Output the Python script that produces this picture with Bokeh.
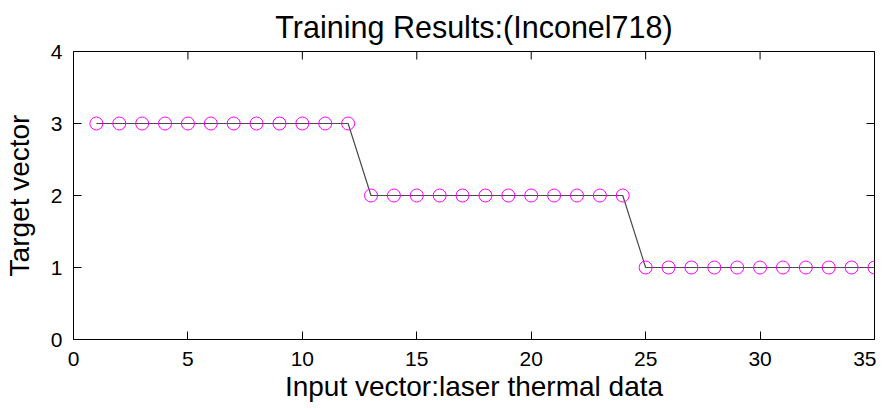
import math
from bokeh.plotting import figure
from bokeh.models import Range1d, LinearAxis, SingleIntervalTicker
from bokeh.embed import file_html
from bokeh.resources import INLINE

# Data
sample_index = list(range(1, 36))
target_values = [3] * 12 + [2] * 12 + [1] * 11

x_ticks = [0, 5, 10, 15, 20, 25, 30, 35]
y_ticks = [0, 1, 2, 3, 4]

title_text = "Training Results:(Inconel718)"
x_label = "Input vector:laser thermal data"
y_label = "Target vector"

FONT = "Liberation Sans"

p = figure(width=876, height=405, output_backend="svg", toolbar_location=None,
           x_range=Range1d(0, 35), y_range=Range1d(0, 4),
           min_border_left=66, min_border_right=2, min_border_top=51, min_border_bottom=66,
           x_axis_location=None, y_axis_location=None)

p.background_fill_color = "white"
p.border_fill_color = "white"
p.outline_line_color = "black"
p.outline_line_width = 1
p.xgrid.visible = False
p.ygrid.visible = False

p.title.text = title_text
p.title.text_font = FONT
p.title.text_font_size = "30.5px"
p.title.text_font_style = "normal"
p.title.align = "center"
p.title.text_color = "black"
p.title.standoff = 15


def style_axis(ax, interval):
    ax.ticker = SingleIntervalTicker(interval=interval)
    ax.minor_tick_line_color = None
    ax.major_tick_in = 8
    ax.major_tick_out = 0
    ax.major_tick_line_color = "black"
    ax.major_tick_line_width = 1
    ax.axis_line_color = None
    ax.major_label_text_font = FONT
    ax.major_label_text_font_size = "21px"
    ax.major_label_text_color = "black"
    ax.axis_label_text_font = FONT
    ax.axis_label_text_font_size = "28px"
    ax.axis_label_text_font_style = "normal"
    ax.axis_label_text_color = "black"


xb = LinearAxis(axis_label=x_label)
style_axis(xb, 5)
xb.major_label_standoff = 8
xb.axis_label_standoff = 2
p.add_layout(xb, "below")

yl = LinearAxis(axis_label=y_label)
style_axis(yl, 1)
yl.major_label_standoff = 7
yl.axis_label_standoff = 13
p.add_layout(yl, "left")

# Mirrored inward ticks on the top and right edges of the box
p.scatter(x_ticks, [4] * len(x_ticks), marker="dash", size=16, angle=math.pi / 2,
          line_color="black", line_width=1)
p.scatter([35] * len(y_ticks), y_ticks, marker="dash", size=16,
          line_color="black", line_width=1)

p.line(sample_index, target_values, line_color="#4a4a4a", line_width=1.2)
p.scatter(sample_index, target_values, marker="circle", size=13,
          fill_color=None, line_color="#FF00FF", line_width=1)

open("out.html", "w").write(file_html(p, INLINE))
